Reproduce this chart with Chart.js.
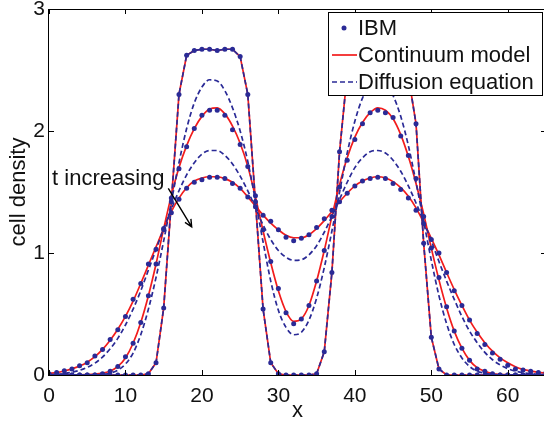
<!DOCTYPE html>
<html>
<head>
<meta charset="utf-8">
<script src="https://cdn.jsdelivr.net/npm/chart.js@4.4.1/dist/chart.umd.min.js"></script>
<style>
  html, body { margin: 0; padding: 0; background: #fff; overflow: hidden; }
  #wrap { width: 550px; height: 424px; }
</style>
</head>
<body>
<div id="wrap"><canvas id="chart" width="550" height="424"></canvas></div>
<script>
// x positions of the lattice sites
var xs = [0, 1, 2, 3, 4, 5, 6, 7, 8, 9, 10, 11, 12, 13, 14, 15, 16, 17, 18, 19, 20,
  21, 22, 23, 24, 25, 26, 27, 28, 29, 30, 31, 32, 33, 34, 35, 36, 37, 38, 39, 40,
  41, 42, 43, 44, 45, 46, 47, 48, 49, 50, 51, 52, 53, 54, 55, 56, 57, 58, 59, 60,
  61, 62, 63, 64, 65];

// first time: IBM, continuum and diffusion all lie on top of each other
var profileT1 = [0, 0, 0, 0, 0, 0, 0, 0, 0, 0, 0, 0, 0, 0.01, 0.10, 0.55, 1.42, 2.30, 2.62, 2.66, 2.67,
  2.67, 2.66, 2.67, 2.67, 2.61, 2.30, 1.42, 0.54, 0.10, 0.01, 0, 0, 0, 0, 0.01, 0.19, 0.84, 1.83, 2.47, 2.63,
  2.67, 2.66, 2.67, 2.66, 2.65, 2.60, 2.45, 2.06, 1.08, 0.31, 0.05, 0, 0, 0, 0, 0, 0, 0, 0, 0,
  0, 0, 0, 0, 0];

var ibmT2 = [0, 0, 0, 0, 0, 0, 0, 0.01, 0.03, 0.07, 0.15, 0.26, 0.43, 0.65, 0.91, 1.19, 1.45, 1.69, 1.87, 2.02, 2.13,
  2.17, 2.17, 2.13, 2.01, 1.89, 1.71, 1.47, 1.19, 0.93, 0.71, 0.51, 0.42, 0.46, 0.57, 0.77, 1.02, 1.30, 1.54, 1.76, 1.93,
  2.06, 2.15, 2.17, 2.15, 2.11, 1.96, 1.80, 1.61, 1.30, 1.04, 0.80, 0.56, 0.36, 0.22, 0.12, 0.05, 0.03, 0.01, 0, 0,
  0, 0, 0, 0, 0];

var ibmT3 = [0.01, 0.02, 0.035, 0.05, 0.075, 0.10, 0.155, 0.21, 0.29, 0.37, 0.48, 0.62, 0.75, 0.91, 1.03, 1.20, 1.33, 1.44, 1.53, 1.58, 1.60,
  1.62, 1.62, 1.61, 1.57, 1.53, 1.46, 1.38, 1.31, 1.26, 1.19, 1.13, 1.10, 1.12, 1.15, 1.21, 1.28, 1.35, 1.42, 1.49, 1.55,
  1.59, 1.61, 1.62, 1.61, 1.57, 1.52, 1.45, 1.35, 1.24, 1.11, 1.00, 0.84, 0.69, 0.57, 0.45, 0.34, 0.25, 0.18, 0.13, 0.08,
  0.05, 0.04, 0.03, 0.02, 0.02];

var contT2 = [0, 0, 0, 0, 0.001, 0.003, 0.007, 0.015, 0.03, 0.07, 0.14, 0.26, 0.43, 0.65, 0.91, 1.20, 1.47, 1.70, 1.88, 2.02, 2.12,
  2.18, 2.19, 2.14, 2.04, 1.90, 1.71, 1.46, 1.18, 0.92, 0.69, 0.52, 0.44, 0.46, 0.57, 0.77, 1.02, 1.30, 1.56, 1.78, 1.95,
  2.07, 2.15, 2.19, 2.17, 2.10, 1.97, 1.79, 1.57, 1.32, 1.04, 0.78, 0.55, 0.36, 0.22, 0.12, 0.06, 0.03, 0.012, 0.005, 0.002,
  0, 0, 0, 0, 0];

var contT3 = [0.014, 0.02, 0.033, 0.05, 0.073, 0.105, 0.15, 0.21, 0.285, 0.375, 0.48, 0.605, 0.75, 0.90, 1.05, 1.20, 1.34, 1.45, 1.535, 1.59, 1.615,
  1.625, 1.625, 1.61, 1.58, 1.53, 1.46, 1.385, 1.31, 1.245, 1.19, 1.145, 1.125, 1.125, 1.15, 1.20, 1.265, 1.34, 1.42, 1.49, 1.55,
  1.59, 1.615, 1.625, 1.615, 1.585, 1.535, 1.465, 1.37, 1.25, 1.12, 0.985, 0.84, 0.70, 0.57, 0.45, 0.35, 0.265, 0.195, 0.14, 0.10,
  0.068, 0.046, 0.032, 0.022, 0.015];

var diffT2 = [0, 0, 0, 0, 0, 0, 0, 0.005, 0.015, 0.04, 0.09, 0.18, 0.33, 0.54, 0.80, 1.10, 1.42, 1.74, 2.02, 2.23, 2.36,
  2.42, 2.41, 2.33, 2.19, 2.00, 1.75, 1.43, 1.09, 0.77, 0.53, 0.39, 0.33, 0.35, 0.45, 0.63, 0.88, 1.18, 1.50, 1.82, 2.08,
  2.27, 2.38, 2.42, 2.39, 2.29, 2.12, 1.88, 1.58, 1.26, 0.94, 0.65, 0.42, 0.25, 0.14, 0.07, 0.03, 0.015, 0.005, 0, 0,
  0, 0, 0, 0, 0];

var diffT3 = [0.003, 0.006, 0.012, 0.022, 0.038, 0.062, 0.097, 0.147, 0.215, 0.30, 0.41, 0.54, 0.69, 0.86, 1.03, 1.20, 1.36, 1.51, 1.64, 1.74, 1.81,
  1.84, 1.84, 1.80, 1.73, 1.63, 1.51, 1.37, 1.23, 1.11, 1.02, 0.965, 0.94, 0.945, 0.985, 1.06, 1.17, 1.30, 1.44, 1.58, 1.70,
  1.78, 1.83, 1.84, 1.82, 1.76, 1.67, 1.55, 1.41, 1.26, 1.10, 0.93, 0.77, 0.62, 0.48, 0.36, 0.265, 0.185, 0.125, 0.082, 0.052,
  0.032, 0.019, 0.011, 0.006, 0.003];

var xTickValues = [0, 10, 20, 30, 40, 50, 60];
var yTickValues = [0, 1, 2, 3];
var seriesLabels = ["IBM", "Continuum model", "Diffusion equation"];

var NAVY = "#2a2a96";
var RED = "#f21c1c";
var FONT = "'Liberation Sans', Arial, Helvetica, sans-serif";

function pts(ys) {
  return xs.map(function (x, i) { return { x: x, y: ys[i] }; });
}

function dots(ys, label) {
  return {
    label: label, data: pts(ys), showLine: false,
    pointRadius: 2.5, pointBackgroundColor: NAVY, pointBorderWidth: 0
  };
}

function line(ys, label, color, dashed, smooth) {
  return {
    label: label, data: pts(ys), showLine: true, pointRadius: 0,
    borderColor: color, borderWidth: 1.7, borderDash: dashed ? [5, 3] : [],
    tension: smooth ? 0.4 : 0, cubicInterpolationMode: smooth ? "monotone" : "default"
  };
}

var frameAndLegend = {
  id: "frameAndLegend",
  afterDatasetsDraw: function (chart) {
    var ctx = chart.ctx;
    var a = chart.chartArea;
    var xs_ = chart.scales.x;
    var ys_ = chart.scales.y;
    ctx.save();
    ctx.strokeStyle = "#000";
    ctx.lineWidth = 1;
    ctx.setLineDash([]);
    ctx.strokeRect(a.left - 0.5, a.top + 0.5, a.right - a.left, a.bottom - a.top);

    // inward ticks on all four sides
    ctx.beginPath();
    xTickValues.forEach(function (v) {
      var px = Math.round(xs_.getPixelForValue(v)) + 0.5;
      ctx.moveTo(px, a.bottom); ctx.lineTo(px, a.bottom - 5);
      ctx.moveTo(px, a.top); ctx.lineTo(px, a.top + 5);
    });
    yTickValues.forEach(function (v) {
      var py = Math.round(ys_.getPixelForValue(v)) + 0.5;
      ctx.moveTo(a.left, py); ctx.lineTo(a.left + 5, py);
      ctx.moveTo(a.right, py); ctx.lineTo(a.right - 5, py);
    });
    ctx.stroke();

    // "t increasing" annotation with arrow
    ctx.fillStyle = "#111";
    ctx.font = "22px " + FONT;
    ctx.textBaseline = "middle";
    ctx.textAlign = "left";
    ctx.fillText("t increasing", xs_.getPixelForValue(0.4), ys_.getPixelForValue(1.61));
    var x0 = xs_.getPixelForValue(15.6), y0 = ys_.getPixelForValue(1.53);
    var x1 = xs_.getPixelForValue(18.66), y1 = ys_.getPixelForValue(1.215);
    var ang = Math.atan2(y1 - y0, x1 - x0);
    ctx.lineWidth = 1.4;
    ctx.beginPath();
    ctx.moveTo(x0, y0); ctx.lineTo(x1, y1);
    ctx.moveTo(x1 - 8 * Math.cos(ang - 0.45), y1 - 8 * Math.sin(ang - 0.45));
    ctx.lineTo(x1, y1);
    ctx.lineTo(x1 - 8 * Math.cos(ang + 0.45), y1 - 8 * Math.sin(ang + 0.45));
    ctx.stroke();

    // legend box
    var bx = 328.5, by = 12.5, bw = 214, bh = 83;
    ctx.fillStyle = "#fff";
    ctx.fillRect(bx, by, bw, bh);
    ctx.lineWidth = 1;
    ctx.strokeStyle = "#000";
    ctx.strokeRect(bx, by, bw, bh);
    var rows = [28, 55, 82];
    ctx.fillStyle = NAVY;
    ctx.beginPath();
    ctx.arc(344, rows[0], 2.5, 0, Math.PI * 2);
    ctx.fill();
    ctx.lineWidth = 1.7;
    ctx.strokeStyle = RED;
    ctx.beginPath(); ctx.moveTo(332, rows[1]); ctx.lineTo(357, rows[1]); ctx.stroke();
    ctx.strokeStyle = NAVY;
    ctx.setLineDash([5, 3]);
    ctx.beginPath(); ctx.moveTo(332, rows[2]); ctx.lineTo(357, rows[2]); ctx.stroke();
    ctx.setLineDash([]);
    ctx.fillStyle = "#111";
    ctx.font = "22px " + FONT;
    seriesLabels.forEach(function (t, i) {
      ctx.fillText(t, 358, rows[i] + 1);
    });
    ctx.restore();
  }
};

new Chart(document.getElementById("chart"), {
  type: "scatter",
  data: {
    datasets: [
      dots(profileT1, seriesLabels[0]),
      dots(ibmT2, seriesLabels[0]),
      dots(ibmT3, seriesLabels[0]),
      line(profileT1, seriesLabels[2], NAVY, true, false),
      line(diffT2, seriesLabels[2], NAVY, true, true),
      line(diffT3, seriesLabels[2], NAVY, true, true),
      line(profileT1, seriesLabels[1], RED, false, false),
      line(contT2, seriesLabels[1], RED, false, true),
      line(contT3, seriesLabels[1], RED, false, true)
    ]
  },
  options: {
    responsive: false,
    animation: false,
    devicePixelRatio: 1,
    layout: { padding: { top: 9, right: 4, left: 0, bottom: 0 } },
    plugins: { legend: { display: false }, tooltip: { enabled: false } },
    scales: {
      x: {
        type: "linear", min: 0, max: 65,
        grid: { display: false, drawTicks: false },
        border: { display: false },
        ticks: { stepSize: 10, includeBounds: false, padding: 9, color: "#111", font: { size: 21, family: FONT } },
        title: { display: true, text: "x", color: "#111", font: { size: 22, family: FONT }, padding: { top: 0, bottom: 0 } },
        afterFit: function (s) { s.height = 49; s.paddingLeft = 0; s.paddingRight = 0; }
      },
      y: {
        type: "linear", min: 0, max: 3,
        grid: { display: false, drawTicks: false },
        border: { display: false },
        ticks: { stepSize: 1, padding: 4, color: "#111", font: { size: 21, family: FONT } },
        title: { display: true, text: "cell density", color: "#111", font: { size: 22, family: FONT }, padding: { top: 6, bottom: 0 } },
        afterFit: function (s) { s.width = 49; s.paddingTop = 0; s.paddingBottom = 0; }
      }
    }
  },
  plugins: [frameAndLegend]
});
</script>
</body>
</html>
